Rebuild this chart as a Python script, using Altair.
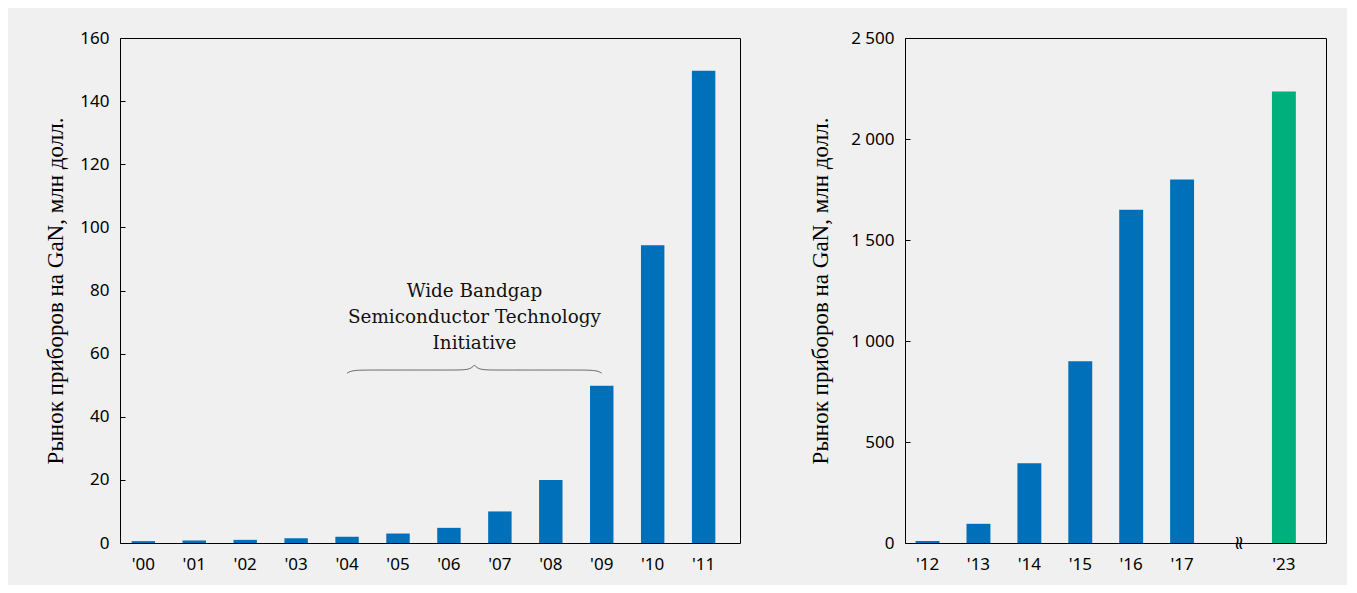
import math
import altair as alt
import pandas as pd

# ---------------- data ----------------
years_left = ["'00", "'01", "'02", "'03", "'04", "'05", "'06", "'07", "'08", "'09", "'10", "'11"]
values_left = [0.6, 0.8, 1.0, 1.5, 2.0, 3.0, 4.8, 10.0, 20.0, 49.8, 94.3, 149.6]

years_right = ["'12", "'13", "'14", "'15", "'16", "'17", "'23"]
values_right = [10, 95, 395, 900, 1650, 1800, 2235]
colors_right = ["#0070bb", "#0070bb", "#0070bb", "#0070bb", "#0070bb", "#0070bb", "#00b07c"]
gap_label = " "
domain_right = ["'12", "'13", "'14", "'15", "'16", "'17", gap_label, "'23"]

ticks_left = [0, 20, 40, 60, 80, 100, 120, 140, 160]
ticks_right = [0, 500, 1000, 1500, 2000, 2500]

y_title = "Рынок приборов на GaN, млн долл."
note_lines = ["Wide Bandgap", "Semiconductor Technology", "Initiative"]
brace_from, brace_to = "'04", "'09"
note_level = 77.85      # baseline of first annotation line (data units)
brace_level = 53.8      # brace end level (data units)
brace_rise, brace_tip = 1.0, 1.6

BLUE = "#0070bb"
BG = "#f0f0f0"
SANS = "Noto Sans"
SERIF_TITLE = "Liberation Serif"
SERIF_NOTE = "DejaVu Serif"

# ---------------- geometry of left band scale ----------------
W_L, W_R, H = 620, 421, 505
PI_L, PO_L, AL_L = 0.54, 0.356, 0.32
PI_R, PO_R, AL_R = 0.53, 0.40, 0.26

n_l = len(years_left)
step_l = W_L / (n_l - PI_L + 2 * PO_L)
extra_l = W_L - step_l * (n_l - PI_L)
lin_lo = -(AL_L * extra_l / step_l + (1 - PI_L) / 2)
lin_hi = lin_lo + W_L / step_l

i0 = years_left.index(brace_from)
i1 = years_left.index(brace_to)
bx, by = [], []
N = 160
for k in range(N + 1):
    t = k / N
    u = 1 - abs(2 * t - 1)
    bx.append(i0 + (i1 - i0) * t)
    by.append(brace_level + brace_rise * (1 - math.exp(-u / 0.035))
              + brace_tip * math.exp(-(1 - u) / 0.03))

df_left = pd.DataFrame({"year": years_left, "value": values_left})
df_right = pd.DataFrame({"year": years_right, "value": values_right, "color": colors_right})
df_brace = pd.DataFrame({"bx": bx, "by": by, "order": list(range(N + 1))})
df_note = pd.DataFrame({"nx": [(i0 + i1) / 2], "ny": [note_level]})
df_break = pd.DataFrame({"year": [gap_label], "value": [0]})


def y_axis(values, label_expr=None, title_x=-60):
    kw = dict(
        values=values, domain=False, ticks=True, tickSize=5, offset=-5,
        tickColor="black", tickWidth=1, grid=False,
        labelFont=SANS, labelFontSize=17, labelColor="black", labelPadding=11,
        title=y_title, titleFont=SERIF_TITLE, titleFontSize=23, titleFontWeight="normal",
        titleColor="black", titleX=title_x, titleBaseline="alphabetic",
    )
    if label_expr:
        kw["labelExpr"] = label_expr
    return alt.Axis(**kw)


x_axis = alt.Axis(domain=False, ticks=False, tickSize=0, labelAngle=0, labelPadding=13,
                  labelFont=SANS, labelFontSize=17, labelColor="black", title=None)

yscale_l = alt.Scale(domain=[0, 160], nice=False, zero=True)
yscale_r = alt.Scale(domain=[0, 2500], nice=False, zero=True)
lin_scale = alt.Scale(domain=[lin_lo, lin_hi], nice=False, zero=False)

bars_l = alt.Chart(df_left).mark_bar(color=BLUE).encode(
    x=alt.X("year:N", sort=years_left, axis=x_axis,
            scale=alt.Scale(domain=years_left, paddingInner=PI_L, paddingOuter=PO_L, align=AL_L)),
    y=alt.Y("value:Q", scale=yscale_l, axis=y_axis(ticks_left, title_x=-63), title=y_title),
)

brace = alt.Chart(df_brace).mark_line(color="#666666", strokeWidth=1).encode(
    x=alt.X("bx:Q", scale=lin_scale, axis=None),
    y=alt.Y("by:Q", scale=yscale_l, title=y_title),
    order="order:Q",
)

note = alt.Chart(df_note).mark_text(
    text=note_lines, font=SERIF_NOTE, fontSize=18.4, color="#111111",
    align="center", baseline="alphabetic", lineHeight=26,
).encode(
    x=alt.X("nx:Q", scale=lin_scale, axis=None),
    y=alt.Y("ny:Q", scale=yscale_l, title=y_title),
)

left = alt.layer(bars_l, brace, note).resolve_scale(x="independent").properties(width=W_L, height=H)

right_bars = alt.Chart(df_right).mark_bar().encode(
    x=alt.X("year:N", sort=domain_right, axis=x_axis,
            scale=alt.Scale(domain=domain_right, paddingInner=PI_R, paddingOuter=PO_R, align=AL_R)),
    y=alt.Y("value:Q", scale=yscale_r,
            axis=y_axis(ticks_right, "replace(format(datum.value, ','), ',', ' ')", title_x=-83),
            title=y_title),
    color=alt.Color("color:N", scale=None),
)

break_mark = alt.Chart(df_break).mark_text(
    text="≈", angle=90, font="DejaVu Sans", fontSize=19, color="black",
    align="center", baseline="middle", dy=-6,
).encode(
    x=alt.X("year:N", sort=domain_right),
    y=alt.Y("value:Q", scale=yscale_r, title=y_title),
)

right = alt.layer(right_bars, break_mark).properties(width=W_R, height=H)

chart = alt.hconcat(left, right, spacing=67).properties(
    background=BG,
    padding={"left": 35, "top": 20, "right": 20, "bottom": 12},
).configure_view(stroke="black", strokeWidth=1)

chart.save("out.html", embed_options={"renderer": "svg", "actions": False})
